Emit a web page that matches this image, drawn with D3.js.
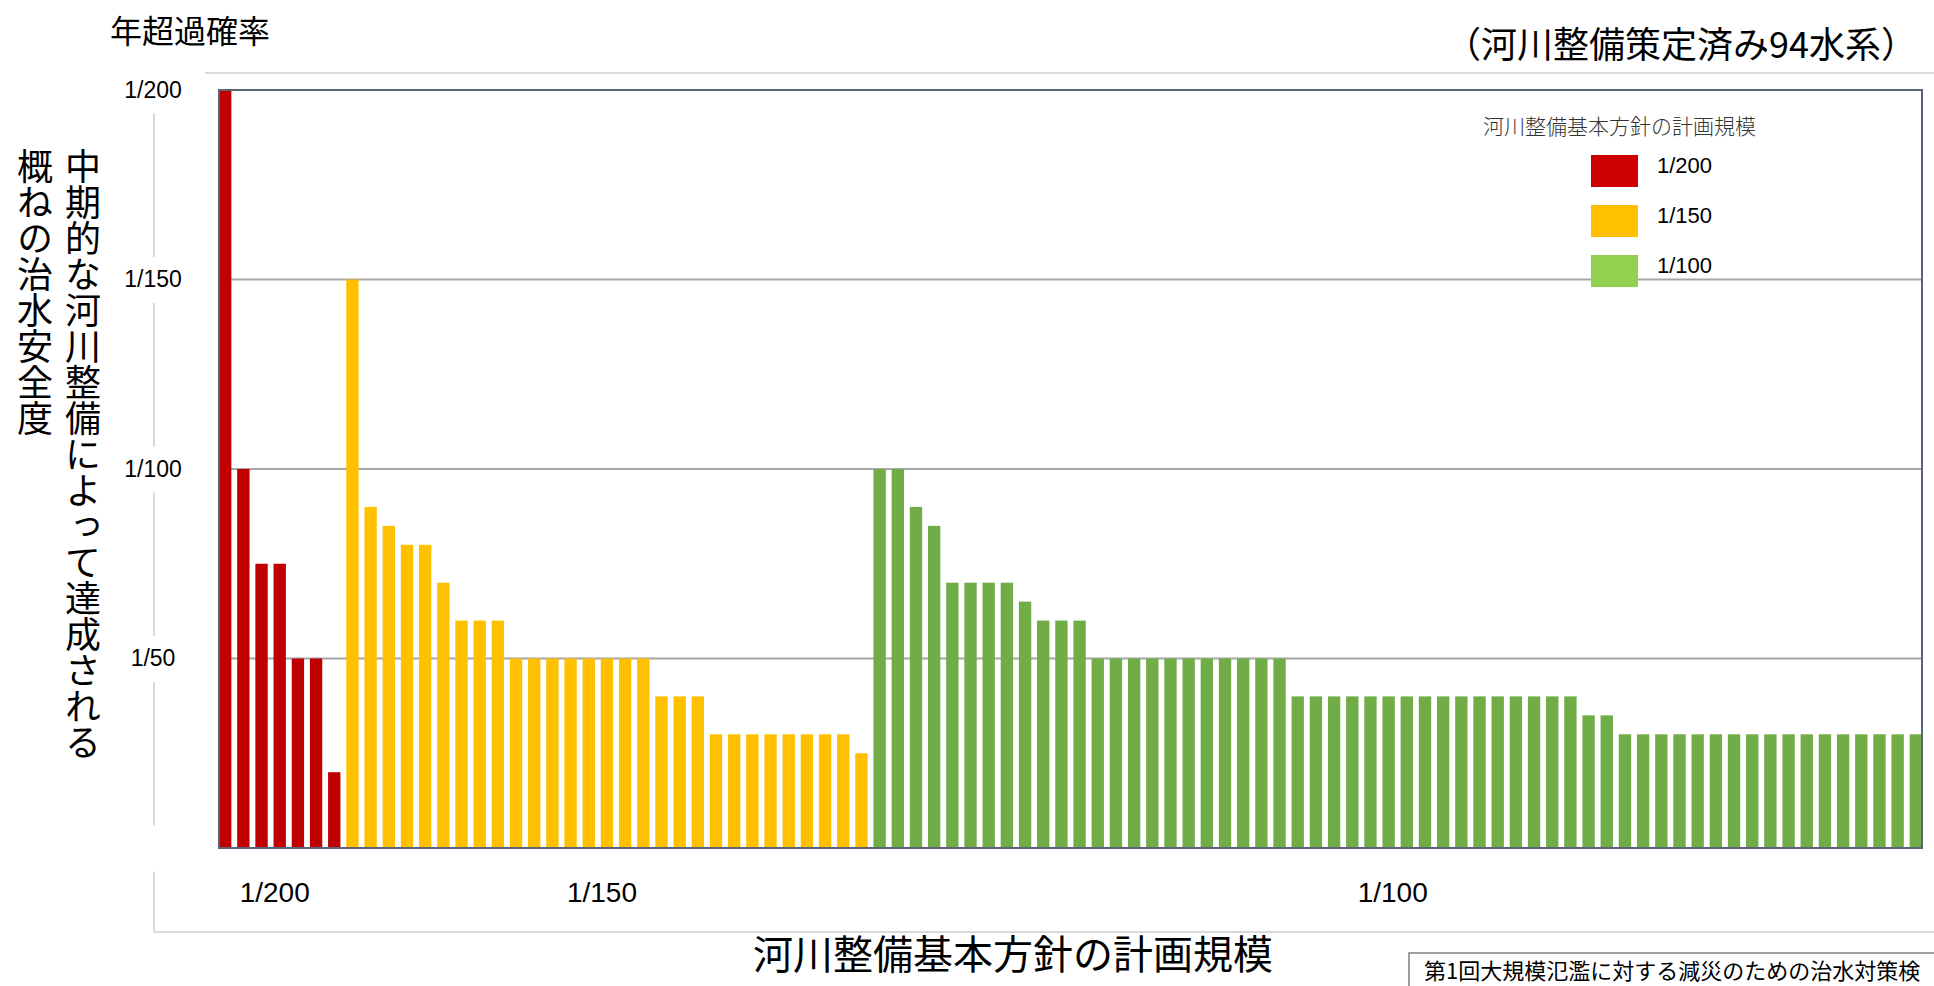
<!DOCTYPE html>
<html>
<head>
<meta charset="utf-8">
<script src="https://cdn.jsdelivr.net/npm/d3@7"></script>
<style>
  body { margin: 0; background: #fff; }
  svg { display: block; }
</style>
</head>
<body>
<svg id="chart"></svg>
<script>
// plan scale of each group (legend + category labels)
const groupLabels = ['1/200', '1/150', '1/100']
const barColors = ['#c00000', '#ffc000', '#70ad47']
const legendColors = ['#cc0000', '#ffc000', '#92d050']

// mid-term safety level per river system (denominator of annual exceedance prob.)
const values200 = [200, 100, 75, 75, 50, 50, 20]
const values150 = [150, 90, 85, 80, 80, 70, 60, 60, 60,
  50, 50, 50, 50, 50, 50, 50, 50,
  40, 40, 40,
  30, 30, 30, 30, 30, 30, 30, 30,
  25]
const values100 = [100, 100, 90, 85, 70, 70, 70, 70, 65, 60, 60, 60,
  50, 50, 50, 50, 50, 50, 50, 50, 50, 50, 50,
  40, 40, 40, 40, 40, 40, 40, 40, 40, 40, 40, 40, 40, 40, 40, 40,
  35, 35,
  30, 30, 30, 30, 30, 30, 30, 30, 30, 30, 30, 30, 30, 30, 30, 30, 30]

const yTicks = [0, 50, 100, 150, 200]
const yTickLabels = ['', '1/50', '1/100', '1/150', '1/200']
const gridTicks = [50, 100, 150]

const titleTopLeft = '年超過確率'
const titleTopRight = '（河川整備策定済み94水系）'
const yTitleRight = '中期的な河川整備によって達成される'
const yTitleLeft = '概ねの治水安全度'
const xTitle = '河川整備基本方針の計画規模'
const legendTitle = '河川整備基本方針の計画規模'
const sourceNote = '第1回大規模氾濫に対する減災のための治水対策検'

const LATIN = '"Liberation Sans", Arial, "Noto Sans CJK JP", sans-serif'
const CJK = '"Noto Sans CJK JP", "Noto Sans", sans-serif'

const width = 1934
const height = 986
const plot = { left: 219, right: 1922, top: 90, bottom: 848 }

const svg = d3.select('#chart')
  .attr('width', width)
  .attr('height', height)
  .attr('viewBox', [0, 0, width, height])

const groups = [values200, values150, values100]
const bars = groups.flatMap((vals, gi) => vals.map(v => ({ group: gi, value: v })))
bars.forEach((d, i) => { d.index = i })

const x = d3.scaleBand()
  .domain(d3.range(bars.length))
  .range([plot.left, plot.right])
  .paddingInner(0.32)
  .paddingOuter(0)

const y = d3.scaleLinear()
  .domain([0, 200])
  .range([plot.bottom, plot.top])

// -------- chart area frame (light) --------
svg.append('path')
  .attr('d', `M205,73H${width} M154,73V932 M154,932H${width}`)
  .attr('fill', 'none')
  .attr('stroke', '#d9d9d9')
  .attr('stroke-width', 2)

// -------- gridlines --------
svg.append('g')
  .selectAll('line')
  .data(gridTicks)
  .join('line')
    .attr('x1', plot.left)
    .attr('x2', plot.right)
    .attr('y1', d => y(d))
    .attr('y2', d => y(d))
    .attr('stroke', '#a6a6a6')
    .attr('stroke-width', 2)

// -------- bars --------
svg.append('g')
  .selectAll('rect')
  .data(bars)
  .join('rect')
    .attr('x', d => x(d.index))
    .attr('y', d => y(d.value))
    .attr('width', x.bandwidth())
    .attr('height', d => y(0) - y(d.value))
    .attr('fill', d => barColors[d.group])

// plot border
svg.append('rect')
  .attr('x', plot.left)
  .attr('y', plot.top)
  .attr('width', plot.right - plot.left)
  .attr('height', plot.bottom - plot.top)
  .attr('fill', 'none')
  .attr('stroke', '#5b6377')
  .attr('stroke-width', 2)

// -------- y axis labels --------
const yAxis = d3.axisLeft(y)
  .tickValues(yTicks)
  .tickFormat((d, i) => yTickLabels[i])
  .tickSize(0)
  .tickPadding(0)

const gy = svg.append('g')
  .attr('transform', 'translate(153,0)')
  .call(yAxis)
gy.select('.domain').remove()
gy.selectAll('.tick')
  .insert('rect', 'text')
    .attr('x', -32)
    .attr('y', -23)
    .attr('width', 64)
    .attr('height', 46)
    .attr('fill', '#fff')
gy.selectAll('.tick text')
  .attr('x', 0)
  .attr('text-anchor', 'middle')
  .attr('font-family', LATIN)
  .attr('font-size', 23)
  .attr('fill', '#000')

// -------- group labels under the bars --------
svg.append('g')
  .selectAll('text')
  .data(groupLabels)
  .join('text')
    .attr('x', (d, gi) => {
      const idx = bars.filter(b => b.group === gi).map(b => b.index)
      return (x(d3.min(idx)) + x(d3.max(idx)) + x.bandwidth()) / 2 - 5
    })
    .attr('y', 892)
    .attr('dominant-baseline', 'central')
    .attr('text-anchor', 'middle')
    .attr('font-family', LATIN)
    .attr('font-size', 28)
    .text(d => d)

// -------- legend --------
const legend = svg.append('g')
legend.append('text')
  .attr('x', 1483)
  .attr('y', 125)
  .attr('dominant-baseline', 'central')
  .attr('font-family', CJK)
  .attr('font-weight', 300)
  .attr('font-size', 21)
  .attr('fill', '#333')
  .text(legendTitle)

const items = legend.selectAll('g.item')
  .data(groupLabels)
  .join('g')
    .attr('class', 'item')
    .attr('transform', (d, i) => `translate(0,${i * 50})`)
items.append('rect')
  .attr('x', 1591)
  .attr('y', 155)
  .attr('width', 47)
  .attr('height', 32)
  .attr('fill', (d, i) => legendColors[i])
items.append('text')
  .attr('x', 1657)
  .attr('y', 165)
  .attr('dominant-baseline', 'central')
  .attr('font-family', LATIN)
  .attr('font-size', 22)
  .text(d => d)

// -------- titles --------
svg.append('text')
  .attr('x', 110)
  .attr('y', 29)
  .attr('dominant-baseline', 'central')
  .attr('font-family', CJK)
  .attr('font-size', 32)
  .text(titleTopLeft)

svg.append('text')
  .attr('x', 1445)
  .attr('y', 42)
  .attr('dominant-baseline', 'central')
  .attr('font-family', CJK)
  .attr('font-size', 36)
  .text(titleTopRight)

svg.selectAll('text.ytitle')
  .data([{ t: yTitleRight, x: 83 }, { t: yTitleLeft, x: 35 }])
  .join('text')
    .attr('class', 'ytitle')
    .attr('x', d => d.x)
    .attr('y', 148)
    .style('writing-mode', 'vertical-rl')
    .style('text-orientation', 'upright')
    .attr('font-family', CJK)
    .attr('font-size', 36)
    .text(d => d.t)

svg.append('text')
  .attr('x', 1013)
  .attr('y', 952)
  .attr('dominant-baseline', 'central')
  .attr('text-anchor', 'middle')
  .attr('font-family', CJK)
  .attr('font-size', 40)
  .text(xTitle)

// source note box (runs past the page edge)
svg.append('rect')
  .attr('x', 1409)
  .attr('y', 953)
  .attr('width', 600)
  .attr('height', 100)
  .attr('fill', '#fff')
  .attr('stroke', '#808080')
  .attr('stroke-width', 1.5)
svg.append('text')
  .attr('x', 1424)
  .attr('y', 969)
  .attr('dominant-baseline', 'central')
  .attr('font-family', CJK)
  .attr('font-size', 22)
  .text(sourceNote)
</script>
</body>
</html>
